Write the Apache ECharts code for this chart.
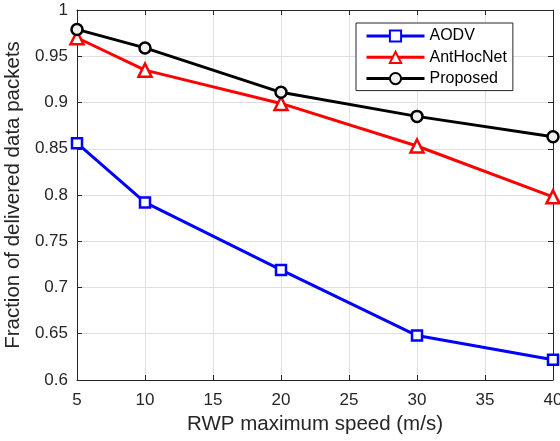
<!DOCTYPE html>
<html>
<head>
<meta charset="utf-8">
<script src="https://cdn.jsdelivr.net/npm/echarts@6/dist/echarts.min.js"></script>
<style>html,body{margin:0;padding:0;background:#fff}#c{width:560px;height:441px}</style>
</head>
<body>
<div id="c"></div>
<script>
var speeds = [5, 10, 20, 30, 40];
var aodv = [0.856, 0.792, 0.719, 0.648, 0.622];
var antHocNet = [0.970, 0.935, 0.899, 0.853, 0.798];
var proposed = [0.979, 0.959, 0.911, 0.885, 0.863];
var seriesNames = ['AODV', 'AntHocNet', 'Proposed'];
var xTitle = 'RWP maximum speed (m/s)';
var yTitle = 'Fraction of delivered data packets';

function pairs(ys) { return speeds.map(function (x, i) { return [x, ys[i]]; }); }

var axisColor = '#262626';
var font = 'Liberation Sans, Arial, Helvetica, sans-serif';
var gridColor = '#dfdfdf';

function mkSeries(name, ys, color, symbol, size, fill) {
  return {
    name: name, type: 'line', data: pairs(ys),
    symbol: symbol, symbolSize: size, showAllSymbol: true,
    lineStyle: { color: color, width: 3 },
    itemStyle: { color: fill, borderColor: color, borderWidth: 2.5 },
    emphasis: { disabled: true }, animation: false
  };
}

var chart = echarts.init(document.getElementById('c'));
chart.setOption({
  backgroundColor: '#fff',
  animation: false,
  grid: { left: 77, right: 7, top: 10, bottom: 61, containLabel: false, outerBoundsMode: 'none' },
  legend: {
    orient: 'vertical', left: 356, top: 23,
    itemWidth: 58, itemHeight: 14, itemGap: 5.3,
    padding: [5, 6, 4, 9],
    borderColor: axisColor, borderWidth: 1, backgroundColor: '#fff',
    lineStyle: { width: 3 },
    textStyle: { fontFamily: font, fontSize: 16, color: '#000' },
    data: seriesNames
  },
  xAxis: [{
    type: 'value', min: 5, max: 40, interval: 5, position: 'bottom',
    name: xTitle, nameLocation: 'middle', nameGap: 34,
    nameTextStyle: { fontFamily: font, fontSize: 20.5, color: axisColor },
    axisLine: { show: true, onZero: false, lineStyle: { color: axisColor, width: 1 } },
    axisTick: { show: true, inside: true, length: 5, lineStyle: { color: axisColor } },
    axisLabel: { fontFamily: font, fontSize: 17, color: axisColor, margin: 12 },
    splitLine: { show: true, lineStyle: { color: gridColor, width: 1 } }
  }, {
    type: 'value', min: 5, max: 40, interval: 5, position: 'top',
    axisLine: { show: true, onZero: false, lineStyle: { color: axisColor, width: 1 } },
    axisTick: { show: true, inside: true, length: 5, lineStyle: { color: axisColor } },
    axisLabel: { show: false }, splitLine: { show: false }
  }],
  yAxis: [{
    type: 'value', min: 0.6, max: 1, interval: 0.05, position: 'left',
    name: yTitle, nameLocation: 'middle', nameGap: 44,
    nameTextStyle: { fontFamily: font, fontSize: 20.5, color: axisColor },
    axisLine: { show: true, onZero: false, lineStyle: { color: axisColor, width: 1 } },
    axisTick: { show: true, inside: true, length: 5, lineStyle: { color: axisColor } },
    axisLabel: { fontFamily: font, fontSize: 17, color: axisColor, margin: 9,
      formatter: function (v) { return String(+v.toFixed(2)); } },
    splitLine: { show: true, lineStyle: { color: gridColor, width: 1 } }
  }, {
    type: 'value', min: 0.6, max: 1, interval: 0.05, position: 'right',
    axisLine: { show: true, onZero: false, lineStyle: { color: axisColor, width: 1 } },
    axisTick: { show: true, inside: true, length: 5, lineStyle: { color: axisColor } },
    axisLabel: { show: false }, splitLine: { show: false }
  }],
  series: [
    mkSeries(seriesNames[0], aodv, '#0000ff', 'rect', 10, '#ffffff'),
    mkSeries(seriesNames[1], antHocNet, '#ff0000', 'triangle', 13, '#ffffff'),
    mkSeries(seriesNames[2], proposed, '#000000', 'circle', 11, '#f0f0f0')
  ]
});
</script>
</body>
</html>
